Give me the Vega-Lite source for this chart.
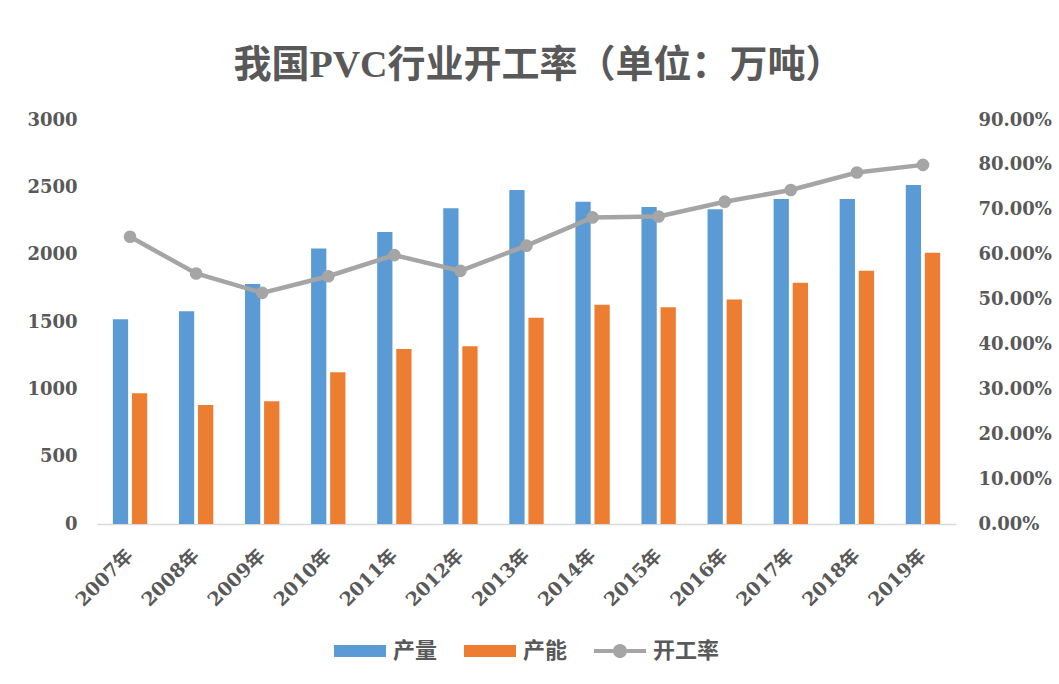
{
  "$schema": "https://vega.github.io/schema/vega-lite/v6.json",
  "width": 859,
  "height": 404,
  "padding": {"left": 26, "top": 47, "right": 6, "bottom": 20},
  "background": "white",
  "title": {
    "text": "我国PVC行业开工率（单位：万吨）",
    "font": "Liberation Serif, Noto Sans CJK SC",
    "fontSize": 38,
    "fontWeight": "bold",
    "color": "#595959",
    "anchor": "middle",
    "dx": 12,
    "offset": 26
  },
  "datasets": {
    "bars": [
      {"year": "2007年", "series": "产量", "value": 1520},
      {"year": "2007年", "series": "产能", "value": 970},
      {"year": "2008年", "series": "产量", "value": 1580},
      {"year": "2008年", "series": "产能", "value": 884},
      {"year": "2009年", "series": "产量", "value": 1782},
      {"year": "2009年", "series": "产能", "value": 911},
      {"year": "2010年", "series": "产量", "value": 2045},
      {"year": "2010年", "series": "产能", "value": 1126},
      {"year": "2011年", "series": "产量", "value": 2168},
      {"year": "2011年", "series": "产能", "value": 1300},
      {"year": "2012年", "series": "产量", "value": 2344},
      {"year": "2012年", "series": "产能", "value": 1320},
      {"year": "2013年", "series": "产量", "value": 2480},
      {"year": "2013年", "series": "产能", "value": 1532},
      {"year": "2014年", "series": "产量", "value": 2393},
      {"year": "2014年", "series": "产能", "value": 1629},
      {"year": "2015年", "series": "产量", "value": 2354},
      {"year": "2015年", "series": "产能", "value": 1609},
      {"year": "2016年", "series": "产量", "value": 2337},
      {"year": "2016年", "series": "产能", "value": 1668},
      {"year": "2017年", "series": "产量", "value": 2413},
      {"year": "2017年", "series": "产能", "value": 1792},
      {"year": "2018年", "series": "产量", "value": 2413},
      {"year": "2018年", "series": "产能", "value": 1881},
      {"year": "2019年", "series": "产量", "value": 2517},
      {"year": "2019年", "series": "产能", "value": 2015}
    ],
    "rate": [
      {"year": "2007年", "rate": 0.640},
      {"year": "2008年", "rate": 0.558},
      {"year": "2009年", "rate": 0.515},
      {"year": "2010年", "rate": 0.552},
      {"year": "2011年", "rate": 0.599},
      {"year": "2012年", "rate": 0.564},
      {"year": "2013年", "rate": 0.620},
      {"year": "2014年", "rate": 0.683},
      {"year": "2015年", "rate": 0.685},
      {"year": "2016年", "rate": 0.718},
      {"year": "2017年", "rate": 0.744},
      {"year": "2018年", "rate": 0.783},
      {"year": "2019年", "rate": 0.800}
    ]
  },
  "config": {
    "view": {"stroke": null},
    "axis": {
      "labelFont": "DejaVu Serif, Noto Sans CJK SC",
      "labelFontWeight": "bold",
      "labelFontSize": 18,
      "labelColor": "#595959",
      "grid": false,
      "ticks": false,
      "title": null
    },
    "legend": {
      "layout": {"bottom": {"anchor": "middle"}}
    }
  },
  "layer": [
    {
      "data": {"name": "bars"},
      "mark": {"type": "bar"},
      "encoding": {
        "x": {
          "field": "year",
          "type": "nominal",
          "sort": null,
          "scale": {"paddingInner": 0.48, "paddingOuter": 0.24},
          "axis": {
            "labelAngle": -45,
            "labelAlign": "right",
            "labelBaseline": "middle",
            "labelFontSize": 19,
            "labelPadding": 28,
            "domain": true,
            "domainColor": "#d9d9d9",
            "domainWidth": 1.5
          }
        },
        "xOffset": {
          "field": "series",
          "type": "nominal",
          "sort": ["产量", "产能"],
          "scale": {"paddingInner": 0.2, "paddingOuter": 0}
        },
        "y": {
          "field": "value",
          "type": "quantitative",
          "scale": {"domain": [0, 3000]},
          "axis": {
            "values": [0, 500, 1000, 1500, 2000, 2500, 3000],
            "format": "d",
            "domain": false,
            "labelPadding": 20
          }
        },
        "color": {
          "field": "series",
          "type": "nominal",
          "scale": {
            "domain": ["产量", "产能", "开工率"],
            "range": ["#5b9bd5", "#ed7d31", "#a5a5a5"]
          },
          "legend": {
            "orient": "bottom",
            "direction": "horizontal",
            "title": null,
            "offset": 15,
            "labelFont": "Noto Sans CJK SC",
            "labelFontWeight": "bold",
            "labelFontSize": 22,
            "labelColor": "#595959",
            "labelOffset": 7,
            "columnPadding": 26,
            "symbolSize": 2704,
            "encode": {
              "symbols": {
                "update": {
                  "shape": {"signal": "datum.value === '开工率' ? 'M-1,-0.08H1V0.08H-1Z M-0.27,0A0.27,0.27 0 1,1 0.27,0A0.27,0.27 0 1,1 -0.27,0Z' : 'M-1,-0.23H1V0.23H-1Z'"},
                  "fill": {"signal": "scale('color', datum.value)"},
                  "stroke": {"value": "transparent"},
                  "strokeWidth": {"value": 0},
                  "opacity": {"value": 1},
                  "fillOpacity": {"value": 1}
                }
              }
            }
          }
        }
      }
    },
    {
      "data": {"name": "rate"},
      "mark": {
        "type": "line",
        "strokeWidth": 4.5,
        "point": {"filled": true, "size": 160}
      },
      "encoding": {
        "x": {"field": "year", "type": "nominal", "sort": null},
        "y": {
          "field": "rate",
          "type": "quantitative",
          "scale": {"domain": [0, 0.9]},
          "axis": {
            "orient": "right",
            "values": [0, 0.1, 0.2, 0.3, 0.4, 0.5, 0.6, 0.7, 0.8, 0.9],
            "format": ".2%",
            "domain": false,
            "labelPadding": 22
          }
        },
        "color": {"datum": "开工率"}
      }
    }
  ],
  "resolve": {"scale": {"y": "independent"}}
}
